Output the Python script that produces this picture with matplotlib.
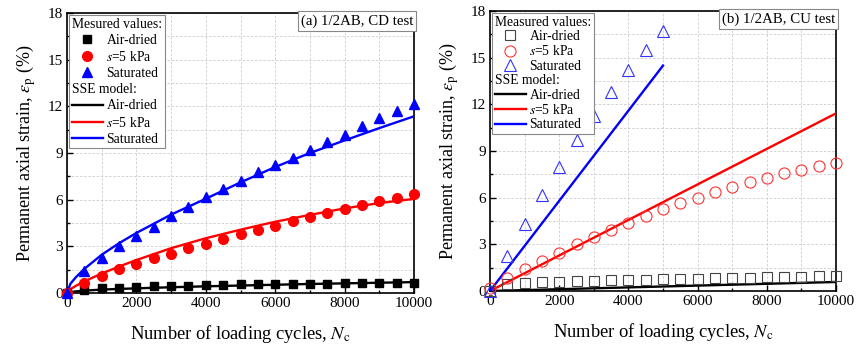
import matplotlib
matplotlib.use("Agg")
import matplotlib.pyplot as plt
from matplotlib.lines import Line2D
from matplotlib.ticker import MultipleLocator

plt.rcParams['font.family'] = ['Liberation Serif', 'DejaVu Serif']
plt.rcParams['mathtext.fontset'] = 'stix'

# ---------------- data ----------------
N_meas = [0, 500, 1000, 1500, 2000, 2500, 3000, 3500, 4000, 4500, 5000,
          5500, 6000, 6500, 7000, 7500, 8000, 8500, 9000, 9500, 10000]

# (a) CD test - measured
cd_air = [0, 0.22, 0.3, 0.35, 0.38, 0.42, 0.45, 0.48, 0.5, 0.52, 0.55,
          0.56, 0.57, 0.58, 0.6, 0.6, 0.62, 0.64, 0.65, 0.65, 0.67]
cd_s5 = [0, 0.64, 1.11, 1.54, 1.89, 2.25, 2.53, 2.89, 3.17, 3.47, 3.79,
         4.07, 4.33, 4.6, 4.89, 5.14, 5.4, 5.64, 5.89, 6.1, 6.36]
cd_sat = [0, 1.39, 2.25, 3.0, 3.64, 4.22, 4.93, 5.53, 6.15, 6.69, 7.22,
          7.76, 8.21, 8.68, 9.17, 9.69, 10.18, 10.76, 11.25, 11.72, 12.15]

# (a) CD test - SSE model
N_model = [0, 100, 250, 500, 1000, 1500, 2000, 3000, 4000, 5000, 6000, 7000, 8000, 9000, 10000]
cd_air_m = [0, 0.06, 0.1, 0.15, 0.22, 0.26, 0.3, 0.37, 0.43, 0.48, 0.53, 0.58, 0.62, 0.66, 0.7]
cd_s5_m = [0, 0.25, 0.45, 0.75, 1.25, 1.7, 2.12, 2.88, 3.52, 4.07, 4.58, 5.02, 5.44, 5.78, 6.05]
cd_sat_m = [0, 0.6, 1.0, 1.55, 2.46, 3.2, 3.86, 5.04, 6.06, 7.11, 8.1, 9.0, 9.81, 10.6, 11.36]

# (b) CU test - measured
cu_air = [0, 0.45, 0.54, 0.56, 0.6, 0.64, 0.66, 0.69, 0.71, 0.73, 0.75,
          0.77, 0.79, 0.81, 0.84, 0.86, 0.88, 0.9, 0.92, 0.94, 0.99]
cu_s5 = [0.2, 0.81, 1.41, 1.95, 2.46, 3.0, 3.45, 3.92, 4.35, 4.82, 5.25,
         5.64, 6.0, 6.34, 6.66, 6.99, 7.29, 7.56, 7.8, 8.04, 8.25]
N_sat_cu = [0, 500, 1000, 1500, 2000, 2500, 3000, 3500, 4000, 4500, 5000]
cu_sat = [0, 2.25, 4.29, 6.17, 7.99, 9.71, 11.27, 12.77, 14.21, 15.49, 16.71]

# (b) CU test - SSE model (linear)
N_cu_m = [0, 10000]
cu_air_m = [0, 0.58]
cu_s5_m = [0, 11.42]
N_cu_sat_m = [0, 5000]
cu_sat_m = [0, 14.49]

labels_series = ['Air-dried', '$s$=5 kPa', 'Saturated']
colors = ['black', '#ff0000', '#0000ff']

# ---------------- figure ----------------
fig = plt.figure(figsize=(8.6, 3.47), dpi=100)
axL = fig.add_axes([67/860, 54/347, 347/860, 280/347])
axR = fig.add_axes([490/860, 56/347, 346/860, 280/347])


def style_axes(ax):
    ax.set_xlim(0, 10000)
    ax.set_ylim(0, 18)
    ax.xaxis.set_major_locator(MultipleLocator(2000))
    ax.xaxis.set_minor_locator(MultipleLocator(1000))
    ax.yaxis.set_major_locator(MultipleLocator(3))
    ax.yaxis.set_minor_locator(MultipleLocator(1.5))
    ax.tick_params(which='both', direction='in', top=False, right=False,
                   labelsize=11, width=1)
    ax.tick_params(which='major', length=4.5, pad=3)
    ax.tick_params(which='minor', length=2.5)
    ax.grid(which='both', color='#cccccc', linestyle=(0, (3, 2)), linewidth=0.6)
    ax.set_axisbelow(True)
    for sp in ax.spines.values():
        sp.set_linewidth(1.2)
    ax.set_xlabel('Number of loading cycles, $N_\\mathrm{c}$', fontsize=13.3, labelpad=9)
    ax.set_ylabel('Permanent axial strain, $\\varepsilon_\\mathrm{p}$ (%)', fontsize=13, labelpad=7)


def make_legend(ax, header, marker_handles, line_handles, fontsize, spacing):
    head = Line2D([], [], linestyle='none')
    handles = [head] + marker_handles + [head] + line_handles
    labels = [header] + labels_series + ['SSE model:'] + labels_series
    leg = ax.legend(handles, labels, loc='upper left', bbox_to_anchor=(0, 1),
                    borderaxespad=0.15, fontsize=fontsize, frameon=True,
                    fancybox=False, edgecolor='#888888', framealpha=1,
                    handlelength=2.3, handletextpad=0.25, labelspacing=spacing,
                    borderpad=0.2)
    leg.get_frame().set_linewidth(0.8)
    # remove handle area for header rows so header text starts at the left
    try:
        col = leg._legend_handle_box.get_children()[0]
        rows = col.get_children()
        for idx in (0, 4):
            row = rows[idx]
            row._children = [row._children[1]]
    except Exception:
        pass
    return leg


# ---------------- (a) CD test ----------------
style_axes(axL)
mk = ['s', 'o', '^']
msz = [6, 7, 7.5]
meas_cd = [cd_air, cd_s5, cd_sat]
model_cd = [cd_air_m, cd_s5_m, cd_sat_m]
for i in range(3):
    axL.plot(N_model, model_cd[i], color=colors[i], lw=1.7, zorder=3)
for i in range(3):
    axL.plot(N_meas, meas_cd[i], linestyle='none', marker=mk[i], ms=msz[i],
             color=colors[i], mec=colors[i], clip_on=False, zorder=4)

mh = [Line2D([], [], linestyle='none', marker=mk[i], ms=msz[i], color=colors[i]) for i in range(3)]
lh = [Line2D([], [], color=colors[i], lw=1.7) for i in range(3)]
make_legend(axL, 'Mesured values:', mh, lh, 9.8, 0.23)
axL.text(0.997, 0.995, '(a) 1/2AB, CD test', transform=axL.transAxes, ha='right', va='top',
         fontsize=10.7, bbox=dict(boxstyle='square,pad=0.2', fc='white', ec='#888888', lw=0.8))

# ---------------- (b) CU test ----------------
style_axes(axR)
axR.plot(N_cu_m, cu_air_m, color=colors[0], lw=1.7, zorder=3)
axR.plot(N_cu_m, cu_s5_m, color=colors[1], lw=1.7, zorder=3)
axR.plot(N_cu_sat_m, cu_sat_m, color=colors[2], lw=1.7, zorder=3)
msz_o = [7, 8, 8.5]
axR.plot(N_meas, cu_air, linestyle='none', marker='s', ms=msz_o[0], mfc='none',
         mec='#444444', mew=0.8, clip_on=False, zorder=4)
axR.plot(N_meas, cu_s5, linestyle='none', marker='o', ms=msz_o[1], mfc='none',
         mec='#ff3333', mew=0.8, clip_on=False, zorder=4)
axR.plot(N_sat_cu, cu_sat, linestyle='none', marker='^', ms=msz_o[2], mfc='none',
         mec='#3333ff', mew=0.8, clip_on=False, zorder=4)

mh2 = [Line2D([], [], linestyle='none', marker='s', ms=msz_o[0], mfc='none', mec='#444444', mew=0.8),
       Line2D([], [], linestyle='none', marker='o', ms=msz_o[1], mfc='none', mec='#ff3333', mew=0.8),
       Line2D([], [], linestyle='none', marker='^', ms=msz_o[2], mfc='none', mec='#3333ff', mew=0.8)]
lh2 = [Line2D([], [], color=colors[i], lw=1.7) for i in range(3)]
make_legend(axR, 'Measured values:', mh2, lh2, 9.8, 0.1)
axR.text(0.997, 0.995, '(b) 1/2AB, CU test', transform=axR.transAxes, ha='right', va='top',
         fontsize=10.7, bbox=dict(boxstyle='square,pad=0.2', fc='white', ec='#888888', lw=0.8))

fig.savefig('out.png', dpi=100)
